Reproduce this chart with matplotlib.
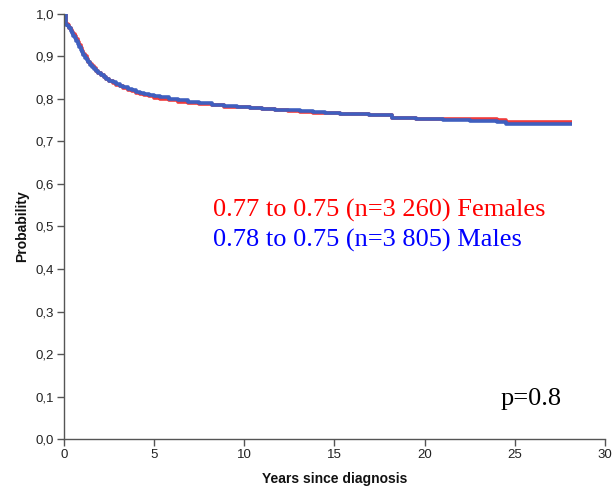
import matplotlib
matplotlib.use("Agg")
import matplotlib.pyplot as plt
import numpy as np

# Kaplan-Meier style step data
female_t = [0.0, 0.12, 0.2, 0.3, 0.38, 0.45, 0.52, 0.6, 0.68, 0.76, 0.84, 0.92, 1.0, 1.08, 1.16, 1.25, 1.35, 1.45, 1.55,
            1.65, 1.78, 1.9, 2.05, 2.2, 2.35, 2.5, 2.7, 2.9, 3.1, 3.3, 3.55, 3.8, 4.0, 4.2, 4.45, 4.7, 5.0, 5.3, 5.8,
            6.3, 6.9, 7.5, 8.2, 8.9, 9.6, 10.3, 11.0, 11.7, 12.4, 13.1, 13.8, 14.5, 15.3, 16.1, 16.9, 17.6, 18.2,
            19.5, 21.0, 22.5, 24.0, 24.5, 28.2]
female_s = [1.0, 0.977, 0.973, 0.968, 0.963, 0.958, 0.953, 0.948, 0.942, 0.935, 0.928, 0.921, 0.914, 0.907, 0.900,
            0.894, 0.888, 0.883, 0.878, 0.873, 0.867, 0.862, 0.857, 0.852, 0.847, 0.843, 0.838, 0.834, 0.830, 0.826,
            0.822, 0.818, 0.815, 0.812, 0.809, 0.806, 0.803, 0.800, 0.797, 0.794, 0.791, 0.788, 0.785, 0.782, 0.780,
            0.778, 0.776, 0.774, 0.772, 0.770, 0.768, 0.767, 0.765, 0.764, 0.763, 0.762, 0.756, 0.754, 0.753, 0.752,
            0.750, 0.747, 0.747]
male_t = [0.0, 0.12, 0.2, 0.3, 0.38, 0.45, 0.52, 0.6, 0.68, 0.76, 0.84, 0.92, 1.0, 1.08, 1.16, 1.25, 1.35, 1.45, 1.55,
          1.65, 1.78, 1.9, 2.05, 2.2, 2.35, 2.5, 2.7, 2.9, 3.1, 3.3, 3.55, 3.8, 4.0, 4.2, 4.45, 4.7, 5.0, 5.3, 5.8,
          6.3, 6.9, 7.5, 8.2, 8.9, 9.6, 10.3, 11.0, 11.7, 12.4, 13.1, 13.8, 14.5, 15.3, 16.1, 16.9, 17.6, 18.2,
          19.5, 21.0, 22.5, 24.0, 24.5, 28.2]
male_s = [1.0, 0.975, 0.971, 0.966, 0.960, 0.955, 0.949, 0.943, 0.937, 0.930, 0.923, 0.916, 0.910, 0.903, 0.897,
          0.891, 0.886, 0.881, 0.876, 0.871, 0.866, 0.861, 0.856, 0.851, 0.847, 0.843, 0.839, 0.835, 0.831, 0.828,
          0.824, 0.820, 0.817, 0.814, 0.811, 0.809, 0.806, 0.804, 0.801, 0.798, 0.794, 0.790, 0.787, 0.784, 0.781,
          0.779, 0.777, 0.775, 0.773, 0.771, 0.769, 0.767, 0.765, 0.764, 0.763, 0.762, 0.755, 0.753, 0.751, 0.749,
          0.747, 0.742, 0.742]

yticks = [0.0, 0.1, 0.2, 0.3, 0.4, 0.5, 0.6, 0.7, 0.8, 0.9, 1.0]
ytick_labels = ["0,0", "0,1", "0,2", "0,3", "0,4", "0,5", "0,6", "0,7", "0,8", "0,9", "1,0"]
xticks = [0, 5, 10, 15, 20, 25, 30]

fig = plt.figure(figsize=(6.14, 4.91), dpi=100)
ax = fig.add_axes([0.1042, 0.1059, 0.881, 0.8656])

ax.step(female_t, female_s, where="post", color="#f03a3a", lw=2.6, solid_capstyle="butt")
ax.step(male_t, male_s, where="post", color="#3f5fbf", lw=2.6, solid_capstyle="butt")

ax.set_xlim(0, 30)
ax.set_ylim(0, 1.0)
ax.set_yticks(yticks)
ax.set_yticklabels(ytick_labels)
ax.set_xticks(xticks)
for s in ["top", "right"]:
    ax.spines[s].set_visible(False)
for s in ["left", "bottom"]:
    ax.spines[s].set_color("#555555")
    ax.spines[s].set_linewidth(1.0)
ax.tick_params(axis="both", direction="out", length=5, width=1.0, color="#555555",
               labelsize=9.5, labelcolor="#222222", pad=2)
for lab in ax.get_xticklabels() + ax.get_yticklabels():
    lab.set_family("Liberation Sans")

ax.set_xlabel("Years since diagnosis", fontsize=10, fontweight="bold", family="Liberation Sans",
              color="#111111", labelpad=8)
ax.set_ylabel("Probability", fontsize=10, fontweight="bold", family="Liberation Sans",
              color="#111111", labelpad=5)

ax.text(8.25, 0.538, "0.77 to 0.75 (n=3 260) Females", color="red", fontsize=19,
        family="Liberation Serif", va="center", ha="left")
ax.text(8.25, 0.468, "0.78 to 0.75 (n=3 805) Males", color="blue", fontsize=19,
        family="Liberation Serif", va="center", ha="left")
ax.text(24.2, 0.094, "p=0.8", color="black", fontsize=19, family="Liberation Serif",
        va="center", ha="left")

fig.savefig("out.png", dpi=100)
